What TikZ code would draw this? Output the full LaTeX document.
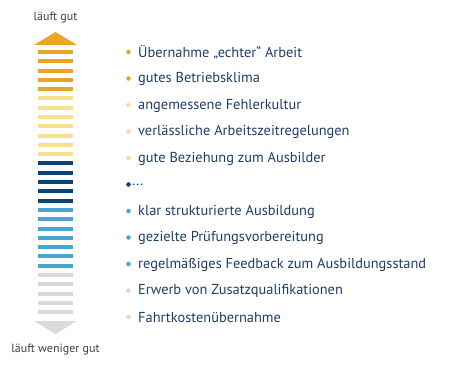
\documentclass[tikz,border=0pt]{standalone}
\usepackage{fontspec}
\setmainfont{PT Sans}
\definecolor{gold}{HTML}{E9A526}
\definecolor{pale}{HTML}{F6E18C}
\definecolor{navy}{HTML}{0B4477}
\definecolor{sky}{HTML}{4BA5CE}
\definecolor{ash}{HTML}{DADADA}
\definecolor{ink}{HTML}{1E3E66}
\tikzset{
  item/.style={anchor=west, inner sep=0pt, text=ink, font=\fontsize{14.4}{16}\selectfont},
  tag/.style={inner sep=0pt, text=black!75, font=\fontsize{12}{14}\selectfont}
}
\begin{document}
\begin{tikzpicture}[x=1pt,y=-1pt]
	\useasboundingbox (0,0) rectangle (452,366);
	\node[tag] (top) at (55.5,18) {läuft gut};
	\node[tag] (bottom) at (55.5,350) {läuft weniger gut};
	\fill[gold] (34,45) -- (55.5,32) -- (77,45) -- cycle;
	\fill[ash] (34,321) -- (55.5,334) -- (77,321) -- cycle;
	\foreach \i in {0,...,4} \fill[gold] (38,{52+9.29*\i-2}) rectangle (73,{52+9.29*\i+2});
	\foreach \i in {5,...,11} \fill[pale] (38,{52+9.29*\i-2}) rectangle (73,{52+9.29*\i+2});
	\foreach \i in {12,...,16} \fill[navy] (38,{52+9.29*\i-2}) rectangle (73,{52+9.29*\i+2});
	\foreach \i in {17,...,23} \fill[sky] (38,{52+9.29*\i-2}) rectangle (73,{52+9.29*\i+2});
	\foreach \i in {24,...,28} \fill[ash] (38,{52+9.29*\i-2}) rectangle (73,{52+9.29*\i+2});
	% list
	\foreach \y/\c in {52/gold,78.5/gold,105/pale,131.5/pale,158/pale,184.5/navy,211/sky,237.5/sky,264/sky,290.5/ash,317/ash}
		\fill[\c] (128.5,\y) circle (2.3);
	\node[item] (t1) at (138,52.5) {Übernahme „echter“ Arbeit};
	\node[item] (t2) at (138,79) {gutes Betriebsklima};
	\node[item] (t3) at (138,105.5) {angemessene Fehlerkultur};
	\node[item] (t4) at (138,132) {verlässliche Arbeitszeitregelungen};
	\node[item] (t5) at (138,158.5) {gute Beziehung zum Ausbilder};
	\node[item] (t6) at (132,185) {...};
	\node[item] (t7) at (138,211.5) {klar strukturierte Ausbildung};
	\node[item] (t8) at (138,238) {gezielte Prüfungsvorbereitung};
	\node[item] (t9) at (138,264.5) {regelmäßiges Feedback zum Ausbildungsstand};
	\node[item] (t10) at (138,291) {Erwerb von Zusatzqualifikationen};
	\node[item] (t11) at (138,317.5) {Fahrtkostenübernahme};
\end{tikzpicture}
\end{document}
